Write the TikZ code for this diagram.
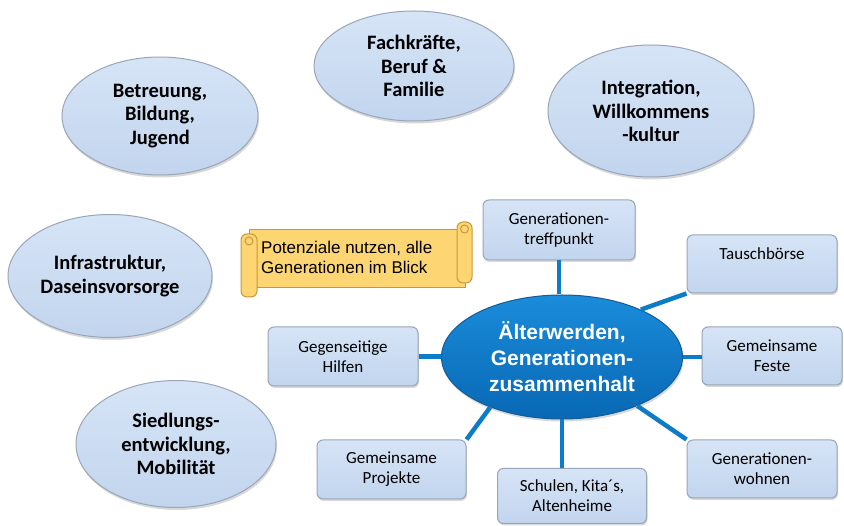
\documentclass[tikz,border=0pt]{standalone}
\usepackage{fontspec}
\setmainfont{Carlito}
\newfontfamily\arialf{Liberation Sans}
\usetikzlibrary{shapes.geometric,shadows}
\definecolor{eltop}{HTML}{D6E4F6}
\definecolor{elbot}{HTML}{C2D5EE}
\definecolor{elborder}{HTML}{9AA6B8}
\definecolor{coretop}{HTML}{1A8CDA}
\definecolor{corebot}{HTML}{0868B4}
\definecolor{coreborder}{HTML}{155C96}
\definecolor{conncol}{HTML}{0C7CC8}
\definecolor{scrollfill}{HTML}{FDD572}
\definecolor{scrollborder}{HTML}{C49A3C}
\tikzset{
  topic/.style={ellipse, draw=elborder, line width=1pt, top color=eltop, bottom color=elbot,
    align=center, inner sep=0pt, font=\bfseries\fontsize{20.5}{23.5}\selectfont,
    drop shadow={opacity=0.3, shadow xshift=1pt, shadow yshift=-2.5pt}},
  infobox/.style={rectangle, rounded corners=6pt, draw=elborder, line width=1pt, top color=eltop, bottom color=elbot,
    align=center, inner sep=0pt, font=\fontsize{17}{20}\selectfont,
    drop shadow={opacity=0.3, shadow xshift=1pt, shadow yshift=-2pt}},
  core/.style={ellipse, draw=coreborder, line width=1pt, top color=coretop, bottom color=corebot,
    align=center, inner sep=0pt, text=white, font=\arialf\bfseries\fontsize{21}{26}\selectfont,
    drop shadow={opacity=0.3, shadow xshift=1pt, shadow yshift=-2.5pt}},
  conn/.style={draw=conncol, line width=4.5pt},
  scrollpart/.style={fill=scrollfill, draw=scrollborder, line width=1pt}
}
\begin{document}
\begin{tikzpicture}[x=1pt,y=-1pt]
\useasboundingbox (0,0) rectangle (844,526);
\fill[white] (0,0) rectangle (844,526);

% topic ellipses
\node[topic, minimum width=196pt, minimum height=118pt] (betr) at (160,116) {Betreuung,\\Bildung,\\Jugend};
\node[topic, minimum width=200pt, minimum height=110pt] (fach) at (414,66) {Fachkräfte,\\Beruf \&\\Familie};
\node[topic, minimum width=206pt, minimum height=132pt] (integ) at (651,111) {Integration,\\Willkommens\\-kultur};
\node[topic, minimum width=204pt, minimum height=123pt] (infra) at (110,276) {Infrastruktur,\\Daseinsvorsorge};
\node[topic, minimum width=200pt, minimum height=127pt] (sied) at (176,444) {Siedlungs-\\entwicklung,\\Mobilität};

% scroll
\draw[scrollpart] (249,230) rectangle (465,288);
\draw[scrollpart, rounded corners=6pt] (457,222) rectangle (472,283);
\draw[scrollpart] (464.5,229) circle (4pt);
\draw[scrollpart, rounded corners=6pt] (241,234) rectangle (257,297);
\draw[scrollpart] (249,241) circle (4pt);
\node[anchor=west, align=left, inner sep=0pt, font=\arialf\fontsize{17}{20}\selectfont] (scrolltext) at (261,257)
  {Potenziale nutzen, alle\\Generationen im Blick};

% boxes
\node[infobox, minimum width=152pt, minimum height=60pt] (treff) at (559,230) {Generationen-\\treffpunkt};
\node[infobox, minimum width=150pt, minimum height=58pt] (tausch) at (762,264) {Tauschbörse\\\mbox{}};
\node[infobox, minimum width=140pt, minimum height=58pt] (feste) at (772,356) {Gemeinsame\\Feste};
\node[infobox, minimum width=150pt, minimum height=58pt] (wohnen) at (762,469) {Generationen-\\wohnen};
\node[infobox, minimum width=149pt, minimum height=55pt] (schulen) at (572,496) {Schulen, Kita´s,\\Altenheime};
\node[infobox, minimum width=149pt, minimum height=59pt] (proj) at (391.5,469.5) {Gemeinsame\\Projekte};
\node[infobox, minimum width=150pt, minimum height=59pt] (hilfen) at (343,356.5) {Gegenseitige\\Hilfen};

% centre
\node[core, minimum width=241pt, minimum height=124pt] (c) at (562,357) {Älterwerden,\\Generationen-\\zusammenhalt};

% connectors
\draw[conn] (treff.south) -- (treff.south |- c.north);
\draw[conn] (tausch.south west) -- (c.31);
\draw[conn] (c.east) -- (c.east -| feste.west);
\draw[conn] (wohnen.north west) -- (c.-33);
\draw[conn] (c.south) -- (c.south |- schulen.north);
\draw[conn] (proj.north east) -- (c.215);
\draw[conn] (hilfen.east) -- (hilfen.east -| c.west);
\end{tikzpicture}
\end{document}
